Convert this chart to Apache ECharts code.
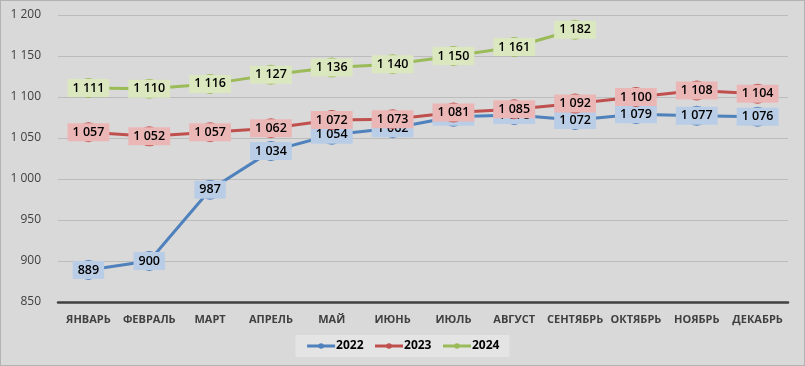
<!DOCTYPE html>
<html><head><meta charset="utf-8">
<script src="https://cdn.jsdelivr.net/npm/echarts@6/dist/echarts.min.js"></script>
<style>
html,body{margin:0;padding:0;background:#d9d9d9;}
#c{width:805px;height:366px;box-sizing:border-box;border:1px solid #b3b3b3;background:#d9d9d9;}
</style></head>
<body><div id="c"></div>
<script>
const months = ['ЯНВАРЬ','ФЕВРАЛЬ','МАРТ','АПРЕЛЬ','МАЙ','ИЮНЬ','ИЮЛЬ','АВГУСТ','СЕНТЯБРЬ','ОКТЯБРЬ','НОЯБРЬ','ДЕКАБРЬ'];
const seriesNames = ['2022','2023','2024'];
const data2022 = [889, 900, 987, 1034, 1054, 1062, 1076, 1078, 1072, 1079, 1077, 1076];
const data2023 = [1057, 1052, 1057, 1062, 1072, 1073, 1081, 1085, 1092, 1100, 1108, 1104];
const data2024 = [1111, 1110, 1116, 1127, 1136, 1140, 1150, 1161, 1182, null, null, null];
const yMin = 850, yMax = 1200, yStep = 50;

const fmt = v => String(v).replace(/\B(?=(\d{3})+(?!\d))/g, ' ');
const FONT = '"Open Sans", "Noto Sans", sans-serif';
const lineColors = ['#4f81bd', '#c0504d', '#9bbb59'];
const boxColors = ['#b9cde6', '#ebb7b6', '#dbe7bf'];

function mk(i, d, z) {
  return {
    name: seriesNames[i], type: 'line', data: d, z: z,
    symbol: 'circle', symbolSize: 20, showSymbol: true,
    lineStyle: {color: lineColors[i], width: 3},
    itemStyle: {color: lineColors[i]},
    label: {
      show: true, position: 'inside', formatter: p => fmt(p.value),
      color: '#000', fontFamily: FONT, fontSize: 12.5, fontWeight: 600,
      backgroundColor: boxColors[i], padding: [3, 5, 2, 5]
    },
    emphasis: {disabled: true}
  };
}

const chart = echarts.init(document.getElementById('c'), null, {renderer: 'canvas'});
chart.setOption({
  animation: false,
  backgroundColor: '#d9d9d9',
  grid: {left: 57, right: 16, top: 14, bottom: 63},
  legend: {
    bottom: 8, left: 'center',
    data: seriesNames,
    backgroundColor: '#e4e4e4', padding: [5, 10, 5, 10],
    itemWidth: 28, itemHeight: 7, itemGap: 10,
    lineStyle: {width: 3},
    textStyle: {color: '#000', fontFamily: FONT, fontSize: 12, fontWeight: 'bold', padding: [0, 0, 0, -4]}
  },
  xAxis: {
    type: 'category', data: months, boundaryGap: true,
    axisLine: {lineStyle: {color: '#404040', width: 2.5}},
    axisTick: {show: false},
    axisLabel: {color: '#404040', fontFamily: FONT, fontSize: 11, fontWeight: 'bold', margin: 12, interval: 0}
  },
  yAxis: {
    type: 'value', min: yMin, max: yMax, interval: yStep,
    axisLine: {show: false}, axisTick: {show: false},
    axisLabel: {color: '#404040', fontFamily: FONT, fontSize: 12, margin: 17, formatter: v => fmt(v)},
    splitLine: {lineStyle: {color: '#bcbcbc', width: 1}}
  },
  series: [mk(0, data2022, 2), mk(1, data2023, 3), mk(2, data2024, 4)]
});
</script></body></html>
